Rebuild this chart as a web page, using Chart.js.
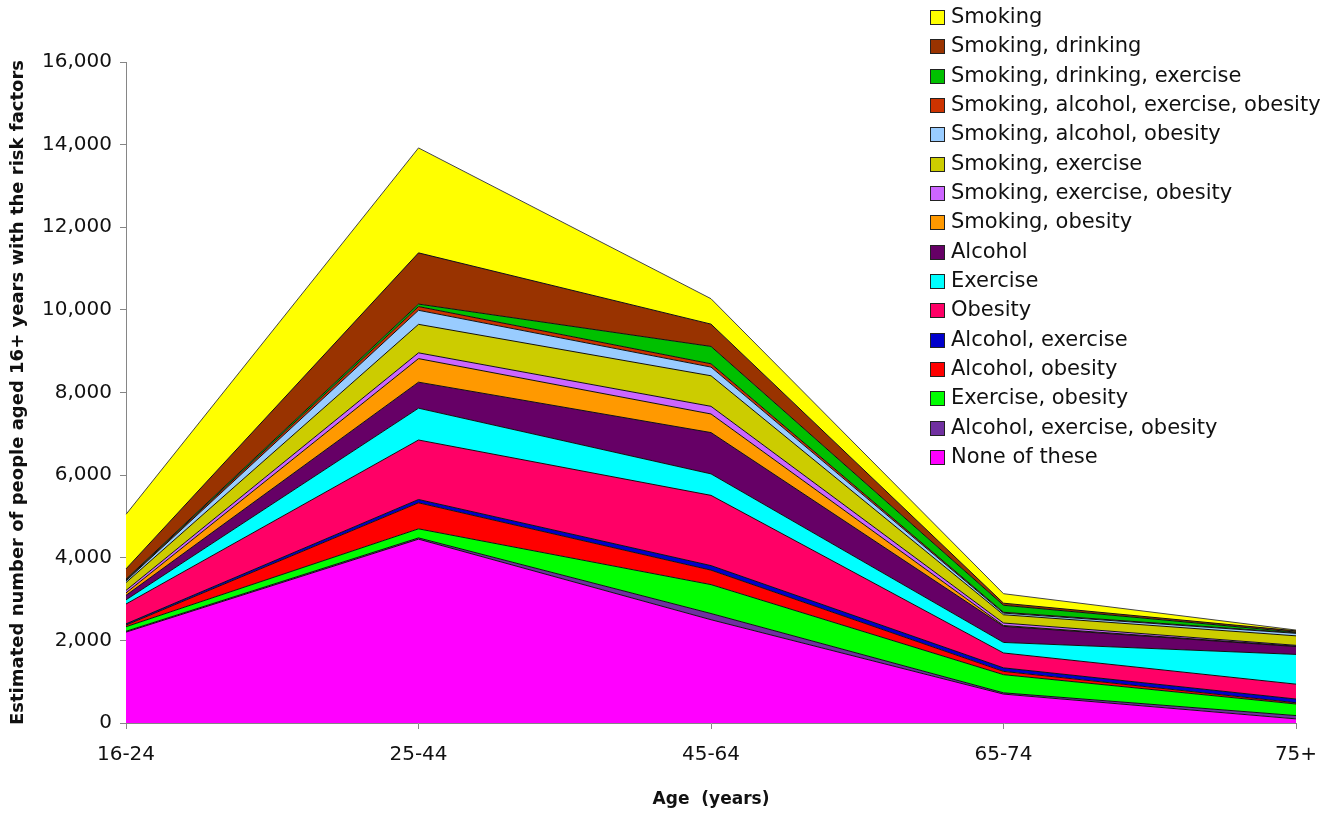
<!DOCTYPE html>
<html>
<head>
<meta charset="utf-8">
<script src="https://cdn.jsdelivr.net/npm/chart.js@4/dist/chart.umd.min.js"></script>
<style>
  body { margin: 0; background: #fff; }
  #wrap { width: 1341px; height: 814px; }
</style>
</head>
<body>
<div id="wrap"><canvas id="chart" width="1341" height="814"></canvas></div>
<script>
//Categories (age bands)
const ages = ["16-24", "25-44", "45-64", "65-74", "75+"];

//Series values, bottom of the stack first
const noneOfThese = [2200, 4450, 2500, 700, 100];
const alcoholExerciseObesity = [20, 30, 150, 30, 80];
const exerciseObesity = [110, 220, 700, 440, 280];
const alcoholObesity = [40, 630, 350, 80, 30];
const alcoholExercise = [30, 80, 110, 85, 90];
const obesity = [480, 1440, 1700, 360, 360];
const exercise = [100, 770, 520, 255, 720];
const alcohol = [110, 630, 1000, 390, 190];
const smokingObesity = [60, 570, 450, 20, 10];
const smokingExerciseObesity = [60, 140, 185, 60, 20];
const smokingExercise = [190, 690, 740, 200, 230];
const smokingAlcoholObesity = [40, 340, 210, 40, 60];
const smokingAlcoholExerciseObesity = [20, 90, 80, 20, 10];
const smokingDrinkingExercise = [20, 60, 420, 170, 20];
const smokingDrinking = [250, 1240, 540, 50, 30];
const smoking = [1320, 2540, 615, 230, 20];

//Tick labels for y axis
const yTicks = [0, 2000, 4000, 6000, 8000, 10000, 12000, 14000, 16000];

const series = [
  ["None of these", noneOfThese, "#FF00FF"],
  ["Alcohol, exercise, obesity", alcoholExerciseObesity, "#7030A0"],
  ["Exercise, obesity", exerciseObesity, "#00FF00"],
  ["Alcohol, obesity", alcoholObesity, "#FF0000"],
  ["Alcohol, exercise", alcoholExercise, "#0000CC"],
  ["Obesity", obesity, "#FF0066"],
  ["Exercise", exercise, "#00FFFF"],
  ["Alcohol", alcohol, "#660066"],
  ["Smoking, obesity", smokingObesity, "#FF9900"],
  ["Smoking, exercise, obesity", smokingExerciseObesity, "#CC66FF"],
  ["Smoking, exercise", smokingExercise, "#CCCC00"],
  ["Smoking, alcohol, obesity", smokingAlcoholObesity, "#99CCFF"],
  ["Smoking, alcohol, exercise, obesity", smokingAlcoholExerciseObesity, "#CC3300"],
  ["Smoking, drinking, exercise", smokingDrinkingExercise, "#00C000"],
  ["Smoking, drinking", smokingDrinking, "#993300"],
  ["Smoking", smoking, "#FFFF00"],
];

const FONT = "'DejaVu Sans', sans-serif";

//Legend drawn top right, topmost layer first
const sideLegend = {
  id: "sideLegend",
  afterDraw(chart) {
    const ctx = chart.ctx;
    const items = chart.data.datasets.slice().reverse();
    ctx.save();
    ctx.font = "21px " + FONT;
    ctx.textBaseline = "middle";
    items.forEach((ds, i) => {
      const y = Math.round(17 + i * 29.33);
      ctx.fillStyle = ds.backgroundColor;
      ctx.fillRect(930, y - 7, 14, 14);
      ctx.strokeStyle = "#222";
      ctx.lineWidth = 1;
      ctx.strokeRect(930.5, y - 6.5, 14, 14);
      ctx.fillStyle = "#111";
      ctx.fillText(ds.label, 951, y + 1);
    });
    ctx.restore();
  },
};

new Chart(document.getElementById("chart"), {
  type: "line",
  data: {
    labels: ages,
    datasets: series.map((s, i) => ({
      label: s[0],
      data: s[1],
      backgroundColor: s[2],
      borderColor: i === series.length - 1 ? "#444" : "#111",
      borderWidth: 1,
      pointRadius: 0,
      tension: 0,
      fill: i === 0 ? "origin" : "-1",
    })),
  },
  options: {
    responsive: false,
    animation: false,
    layout: { padding: { top: 62, right: 45, left: 6, bottom: 0 } },
    plugins: {
      legend: { display: false },
      tooltip: { enabled: false },
    },
    scales: {
      x: {
        offset: false,
        grid: { drawOnChartArea: false, drawTicks: true, tickLength: 6, color: "#868686" },
        border: { color: "#868686" },
        ticks: { color: "#111", font: { family: FONT, size: 20 }, padding: 14, maxRotation: 0 },
        title: {
          display: true,
          text: "Age  (years)",
          color: "#111",
          font: { family: FONT, size: 17, weight: "bold" },
          padding: { top: 0, bottom: 4 },
        },
        afterFit(scale) { scale.height = 91; },
      },
      y: {
        stacked: true,
        min: 0,
        max: 16000,
        grid: { drawOnChartArea: false, drawTicks: true, tickLength: 6, color: "#868686" },
        border: { color: "#868686" },
        afterBuildTicks(scale) { scale.ticks = yTicks.map(v => ({ value: v })); },
        ticks: {
          color: "#111",
          font: { family: FONT, size: 20 },
          padding: 8,
          callback: v => v.toLocaleString("en-US"),
        },
        title: {
          display: true,
          text: "Estimated number of people aged 16+ years with the risk factors",
          color: "#111",
          font: { family: FONT, size: 18, weight: "bold" },
          padding: { top: 2, bottom: 4 },
        },
        afterFit(scale) { scale.width = 120; },
      },
    },
  },
  plugins: [sideLegend],
});
</script>
</body>
</html>
